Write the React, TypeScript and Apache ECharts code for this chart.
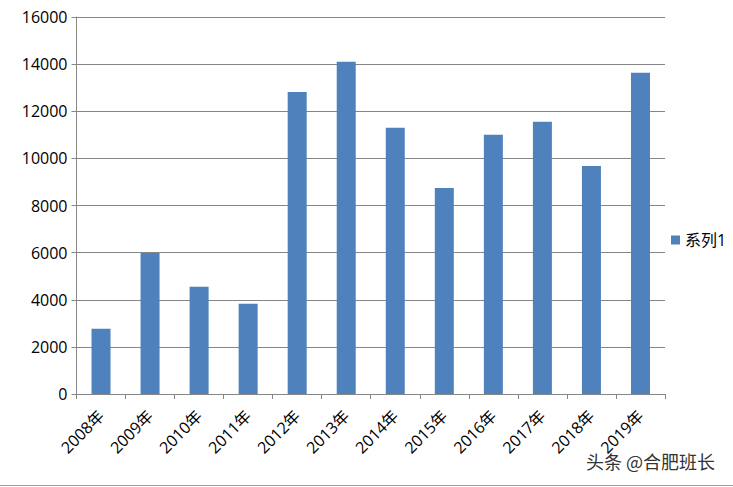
import React, { useEffect, useRef } from "react";
import * as echarts from "echarts";

const categories = ["2008年", "2009年", "2010年", "2011年", "2012年", "2013年", "2014年", "2015年", "2016年", "2017年", "2018年", "2019年"];
const seriesName = "系列1";
const values = [2770, 5980, 4550, 3830, 12820, 14100, 11300, 8740, 11000, 11550, 9680, 13630];
const yTicks = { min: 0, max: 16000, interval: 2000 };
const watermark = "头条 @合肥班长";

const FONT = "'Open Sans', 'Noto Sans CJK SC', sans-serif";

export default function App() {
  const ref = useRef<HTMLDivElement>(null);
  useEffect(() => {
    if (!ref.current) return;
    const chart = echarts.init(ref.current, null, { renderer: "svg" });
    chart.setOption({
      animation: false,
      backgroundColor: "#ffffff",
      textStyle: { fontFamily: FONT },
      grid: { left: 76.5, right: 68, top: 17, bottom: 93, containLabel: false },
      legend: {
        data: [seriesName],
        orient: "vertical",
        left: 666,
        top: 227,
        icon: "rect",
        itemWidth: 9,
        itemHeight: 9,
        textStyle: { fontSize: 16, color: "#000", fontFamily: FONT },
      },
      xAxis: {
        type: "category",
        data: categories,
        boundaryGap: true,
        axisLine: { lineStyle: { color: "#868686", width: 1 } },
        axisTick: { show: true, length: 5, inside: false, lineStyle: { color: "#868686" } },
        axisLabel: { rotate: 45, margin: 19, fontSize: 16, color: "#000", fontFamily: FONT, interval: 0 },
        splitLine: { show: false },
      },
      yAxis: {
        type: "value",
        min: yTicks.min,
        max: yTicks.max,
        interval: yTicks.interval,
        axisLine: { show: true, lineStyle: { color: "#868686", width: 1 } },
        axisTick: { show: true, length: 5, lineStyle: { color: "#868686" } },
        axisLabel: { fontSize: 16, color: "#000", margin: 9, fontFamily: FONT, formatter: (v: number) => String(v) },
        splitLine: { show: true, lineStyle: { color: "#868686", width: 1 } },
      },
      series: [
        {
          name: seriesName,
          type: "bar",
          data: values,
          barWidth: 19,
          itemStyle: { color: "#4F81BD" },
        },
      ],
      graphic: [
        { type: "line", shape: { x1: 0, y1: 485.5, x2: 733, y2: 485.5 }, style: { stroke: "#a0a0a0", lineWidth: 1 } },
        {
          type: "text",
          left: 586,
          top: 452,
          style: { text: watermark, fontSize: 18, fill: "#333", fontFamily: "'Noto Sans CJK SC', sans-serif" },
        },
      ],
    });
    return () => chart.dispose();
  }, []);
  return <div ref={ref} style={{ position: "fixed", left: 0, top: 0, width: 733, height: 487 }} />;
}
